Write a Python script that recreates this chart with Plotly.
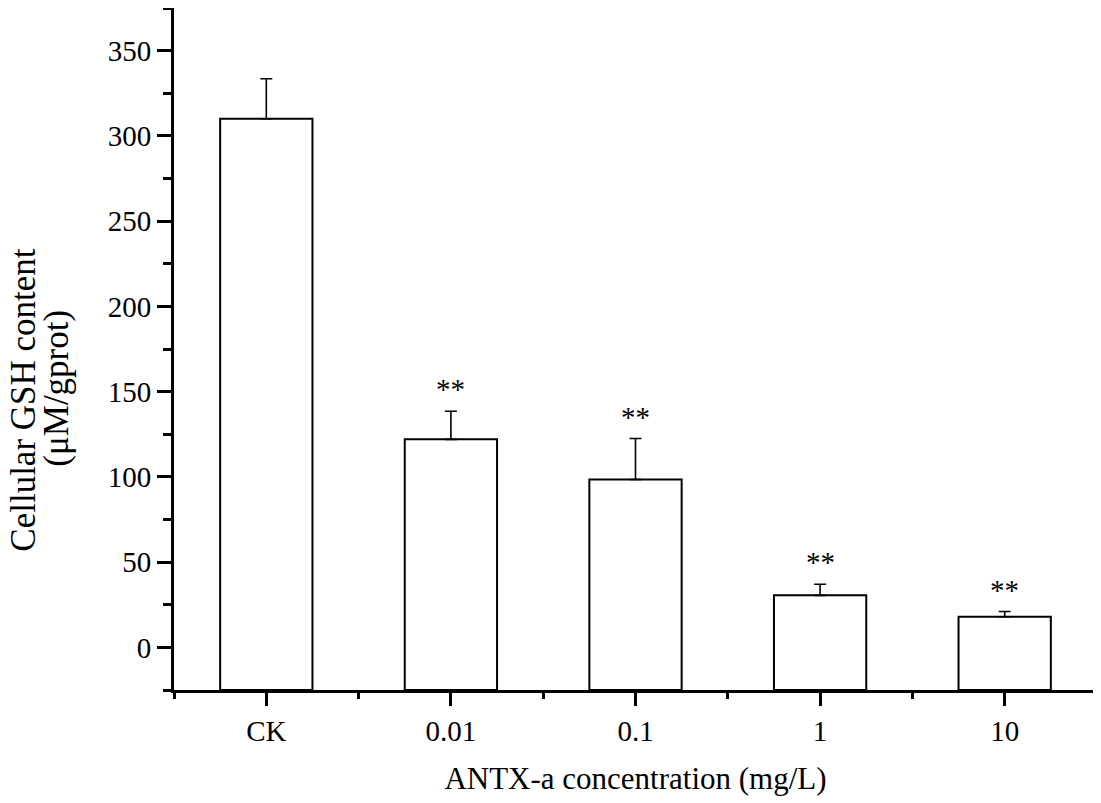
import plotly.graph_objs as go

categories = ['CK', '0.01', '0.1', '1', '10']
gsh_mean = [310, 122, 98.5, 30.5, 18]
gsh_err = [23.5, 16.5, 24, 6.5, 3]
stars = ['', '**', '**', '**', '**']

y_min = -25
y_max = 375
font_name = 'Liberation Serif'

x_pos = list(range(len(categories)))

fig = go.Figure()
# bars drawn from the bottom of the axis, like in Origin
fig.add_trace(go.Bar(
    x=x_pos,
    y=[v - y_min for v in gsh_mean],
    base=y_min,
    width=0.5,
    marker=dict(color='white', line=dict(color='black', width=2)),
    showlegend=False,
    hoverinfo='skip'))
# upper error bars only
fig.add_trace(go.Scatter(
    x=x_pos,
    y=gsh_mean,
    mode='markers',
    marker=dict(size=0.1, color='rgba(0,0,0,0)'),
    error_y=dict(type='data', array=gsh_err, arrayminus=[0] * len(gsh_err),
                 symmetric=False, color='black', thickness=1.6, width=6),
    showlegend=False,
    hoverinfo='skip'))

for i, s in enumerate(stars):
    if s:
        fig.add_annotation(x=x_pos[i], y=gsh_mean[i] + gsh_err[i], text=s,
                           showarrow=False, yanchor='bottom', yshift=4,
                           font=dict(family=font_name, size=29, color='black'))

# y title as two rotated lines (tighter line spacing than plotly's <br>)
fig.add_annotation(x=-0.163, y=0.425, xref='paper', yref='paper',
                   text='Cellular GSH content', textangle=-90,
                   showarrow=False, xanchor='center', yanchor='middle',
                   font=dict(family=font_name, size=35, color='black'))
fig.add_annotation(x=-0.127, y=0.443, xref='paper', yref='paper',
                   text='(μM/gprot)', textangle=-90,
                   showarrow=False, xanchor='center', yanchor='middle',
                   font=dict(family=font_name, size=35, color='black'))

# page body has an 8px margin, so the figure is sized a bit smaller
fig.update_layout(
    width=1093, height=795,
    margin=dict(l=166, r=4, t=0, b=113),
    plot_bgcolor='white', paper_bgcolor='white',
    font=dict(family=font_name, size=29, color='black'),
    xaxis=dict(
        range=[-0.5, 4.5],
        tickmode='array', tickvals=x_pos, ticktext=categories,
        ticks='outside', ticklen=13, tickwidth=2.5, tickcolor='black',
        minor=dict(tickmode='array', tickvals=[p + 0.5 for p in [-1] + x_pos],
                   ticks='outside', ticklen=6, tickwidth=2.5, tickcolor='black'),
        showline=True, linecolor='black', linewidth=3,
        showgrid=False, zeroline=False,
        title=dict(text='ANTX-a concentration (mg/L)', standoff=22,
                   font=dict(family=font_name, size=31))),
    yaxis=dict(
        range=[y_min, y_max],
        tickmode='linear', tick0=0, dtick=50,
        ticks='outside', ticklen=14, tickwidth=2.5, tickcolor='black',
        minor=dict(dtick=25, tick0=y_min, ticks='outside', ticklen=8,
                   tickwidth=2.5, tickcolor='black'),
        showline=True, linecolor='black', linewidth=3,
        showgrid=False, zeroline=False),
)

fig.write_html('out.html')
